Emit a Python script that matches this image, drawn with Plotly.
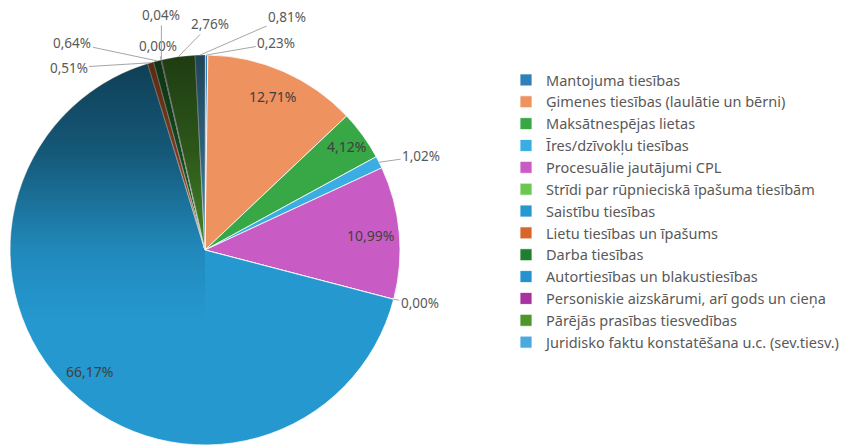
import math
import base64
import plotly.graph_objects as go

W, H = 853, 445

categories = [
    "Mantojuma tiesības",
    "Ģimenes tiesības (laulātie un bērni)",
    "Maksātnespējas lietas",
    "Īres/dzīvokļu tiesības",
    "Procesuālie jautājumi CPL",
    "Strīdi par rūpnieciskā īpašuma tiesībām",
    "Saistību tiesības",
    "Lietu tiesības un īpašums",
    "Darba tiesības",
    "Autortiesības un blakustiesības",
    "Personiskie aizskārumi, arī gods un cieņa",
    "Pārējās prasības tiesvedības",
    "Juridisko faktu konstatēšana u.c. (sev.tiesv.)",
]
values = [0.23, 12.71, 4.12, 1.02, 10.99, 0.00, 66.17, 0.51, 0.64, 0.00, 0.04, 2.76, 0.81]
colors = [
    "#2f80b9", "#ee925f", "#37a845", "#3aaee2", "#c95cc4", "#6dc64f", "#2498cf",
    "#d8652b", "#1e7f30", "#2592d0", "#a8329f", "#4c962c", "#4aaae0",
]

# label placement style: "in" = inside at radius fraction, else (dx, dy) pixel offset of text from slice edge
label_style = [
    (70, -12), "in", "in", (42, -6), "in", (26, 4), "in",
    (-82, 5), (-85, -18), (-3, -14), (0, -45), (32, -33), (87, -38),
]
inside_r = [0, 0.86, 0.9, 0, 0.85, 0, 0.86, 0, 0, 0, 0, 0, 0]

# pie geometry (pixels)
cx, cy, R = 205, 250, 195

fig = go.Figure()
fig.add_trace(go.Pie(
    labels=categories,
    values=values,
    sort=False,
    direction="clockwise",
    rotation=0,
    marker=dict(colors=colors, line=dict(color="white", width=0.8)),
    textinfo="none",
    hoverinfo="label+percent",
    domain=dict(x=[(cx - R) / W, (cx + R) / W], y=[(H - cy - R) / H, (H - cy + R) / H]),
))

# vertical shading overlay (Excel-like gradient) on the left half of the pie
svg = (
    '<svg xmlns="http://www.w3.org/2000/svg" width="100" height="200" viewBox="0 0 100 200" '
    'preserveAspectRatio="none">'
    '<defs><linearGradient id="g" x1="0" y1="0" x2="0" y2="1">'
    '<stop offset="0" stop-color="#000" stop-opacity="0.6"/>'
    '<stop offset="0.25" stop-color="#000" stop-opacity="0.42"/>'
    '<stop offset="0.5" stop-color="#000" stop-opacity="0.1"/>'
    '<stop offset="0.68" stop-color="#000" stop-opacity="0"/>'
    '</linearGradient></defs>'
    '<path d="M100,0 A100,100 0 0 0 100,200 Z" fill="url(#g)"/>'
    '</svg>'
)
svg_uri = "data:image/svg+xml;base64," + base64.b64encode(svg.encode()).decode()
fig.add_layout_image(dict(
    source=svg_uri, xref="paper", yref="paper",
    x=(cx - R) / W, y=1 - (cy - R) / H, sizex=R / W, sizey=2 * R / H,
    xanchor="left", yanchor="top", sizing="stretch", layer="above", opacity=1,
))

total = sum(values)
annotations = []
cum = 0.0
for i, v in enumerate(values):
    mid = cum + v / 2
    cum += v
    th = 2 * math.pi * mid / total
    txt = f"{v:.2f}".replace(".", ",") + "%"
    st = label_style[i]
    if st == "in":
        r = R * inside_r[i]
        px, py = cx + r * math.sin(th), cy - r * math.cos(th)
        annotations.append(dict(
            x=px / W, y=1 - py / H, xref="paper", yref="paper", text=txt,
            xanchor="center", yanchor="middle",
            showarrow=False, font=dict(size=14, color="#404040", family="Noto Sans"),
        ))
    else:
        px, py = cx + R * math.sin(th), cy - R * math.cos(th)
        annotations.append(dict(
            x=px / W, y=1 - py / H, xref="paper", yref="paper", text=txt,
            showarrow=True, arrowhead=0, arrowwidth=1, arrowcolor="#a6a6a6",
            ax=st[0], ay=st[1], standoff=0,
            font=dict(size=13.5, color="#595959", family="Noto Sans"),
        ))

fig.update_layout(
    width=W, height=H,
    margin=dict(l=0, r=0, t=0, b=0),
    paper_bgcolor="white",
    plot_bgcolor="white",
    font=dict(family="Noto Sans", color="#595959"),
    showlegend=True,
    legend=dict(
        x=506 / W, xanchor="left", y=1 - 64 / H, yanchor="top",
        font=dict(size=14.5, color="#595959", family="Noto Sans"),
        bgcolor="rgba(0,0,0,0)",
    ),
    annotations=annotations,
)

fig.write_html("out.html")
